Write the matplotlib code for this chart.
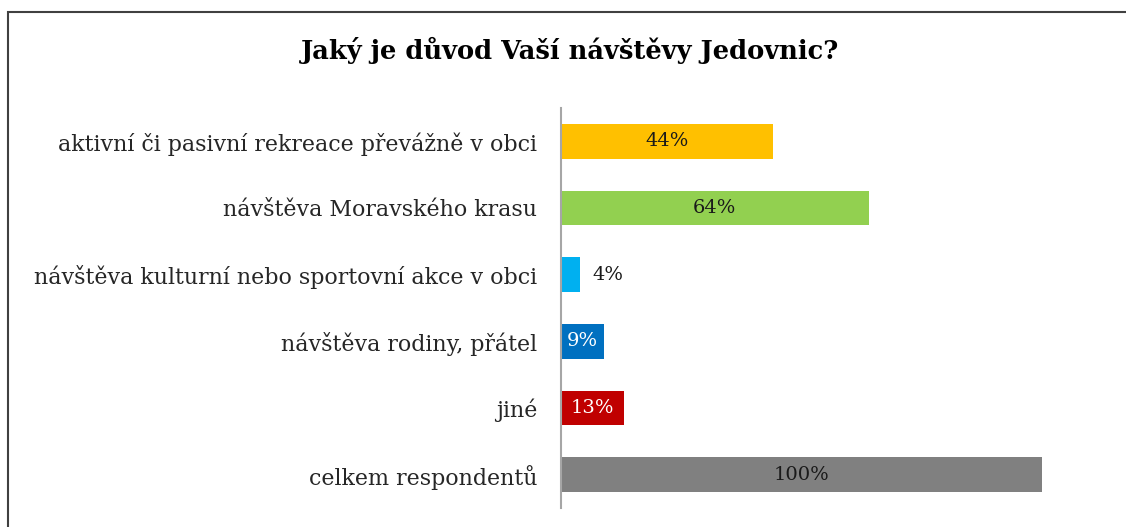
import matplotlib
matplotlib.use("Agg")
import matplotlib.pyplot as plt
from matplotlib.patches import Rectangle

# data
categories = ["aktivní či pasivní rekreace převážně v obci",
              "návštěva Moravského krasu",
              "návštěva kulturní nebo sportovní akce v obci",
              "návštěva rodiny, přátel",
              "jiné",
              "celkem respondentů"]
values = [0.44, 0.64, 0.04, 0.09, 0.13, 1.00]
labels = ["44%", "64%", "4%", "9%", "13%", "100%"]
colors = ["#FFC000", "#92D050", "#00B0F0", "#0070C0", "#C00000", "#808080"]
label_colors = ["#1a1a1a", "#1a1a1a", "#1a1a1a", "white", "white", "#1a1a1a"]
label_inside = [True, True, False, True, True, True]

W, H = 1126, 527
fig = plt.figure(figsize=(W / 100, H / 100), dpi=100)
fig.patch.set_facecolor("white")

# outer chart border (only left and top edge visible)
fig.add_artist(Rectangle((8 / W, -0.1), 1.2, (H - 12) / H + 0.1,
                         transform=fig.transFigure, fill=False,
                         edgecolor="#404040", linewidth=1.5))

fig.text(570 / W, 1 - 50 / H, "Jaký je důvod Vaší návštěvy Jedovnic?",
         ha="center", va="center", fontsize=18.5, fontweight="bold",
         family="DejaVu Serif", color="black")

ax = fig.add_axes([561 / W, 19 / H, 481 / W, 400 / H])
y = list(range(len(categories)))
ax.barh(y, values, height=0.52, color=colors)
ax.set_xlim(0, 1)
ax.set_ylim(len(categories) - 0.5, -0.5)
ax.set_yticks(y)
ax.set_yticklabels(categories, family="DejaVu Serif", fontsize=15.9, color="#262626")
ax.tick_params(axis="y", length=0, pad=17)
ax.set_xticks([])
for s in ["top", "right", "bottom"]:
    ax.spines[s].set_visible(False)
ax.spines["left"].set_color("#a6a6a6")
ax.spines["left"].set_linewidth(1.5)

for i, v in enumerate(values):
    if label_inside[i]:
        ax.text(v / 2, i, labels[i], ha="center", va="center", fontsize=14,
                family="DejaVu Serif", color=label_colors[i])
    else:
        ax.text(v + 0.025, i, labels[i], ha="left", va="center", fontsize=14,
                family="DejaVu Serif", color=label_colors[i])

fig.savefig("out.png", dpi=100)
